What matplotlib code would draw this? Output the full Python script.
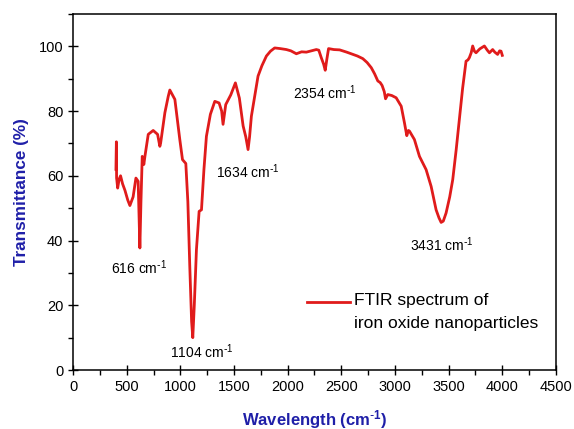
import numpy as np
import matplotlib
matplotlib.use("Agg")
import matplotlib.pyplot as plt
from matplotlib.ticker import MultipleLocator
from matplotlib.legend_handler import HandlerLine2D
from matplotlib.lines import Line2D

plt.rcParams['font.family'] = ['Liberation Sans', 'DejaVu Sans']
plt.rcParams['axes.unicode_minus'] = False

# FTIR spectrum (wavenumber in cm-1, transmittance in %)
wavenumber = [400, 404, 406, 409, 416, 430, 443, 462, 484, 510, 530, 560, 586, 607, 615, 623,
              633, 645, 660, 670, 701, 747, 788, 809, 816, 856, 887, 902, 949, 995, 1020,
              1051, 1070, 1088, 1105, 1116, 1130, 1150, 1175, 1197, 1220, 1243, 1280, 1321,
              1361, 1385, 1398, 1423, 1470, 1513, 1550, 1585, 1610, 1631, 1645, 1662, 1690,
              1724, 1760, 1802, 1840, 1879, 1930, 1988, 2030, 2081, 2130, 2174, 2220, 2267,
              2290, 2313, 2335, 2350, 2365, 2381, 2430, 2484, 2550, 2607, 2650, 2700, 2740,
              2779, 2810, 2840, 2862, 2880, 2900, 2912, 2933, 2970, 3011, 3058, 3088, 3110,
              3125, 3135, 3181, 3228, 3290, 3337, 3383, 3410, 3430, 3450, 3476, 3510, 3538,
              3570, 3600, 3630, 3662, 3680, 3693, 3710, 3724, 3740, 3755, 3790, 3833, 3860,
              3880, 3910, 3930, 3956, 3975, 3988, 4000]
transmittance = [62.0, 70.5, 59.3, 58.5, 56.2, 59.0, 60.0, 57.5, 55.5, 52.5, 50.8, 53.5, 59.3,
                 58.3, 48.0, 37.7, 52.0, 66.0, 63.5, 66.0, 72.8, 74.0, 72.8, 69.1, 70.0, 79.5,
                 84.5, 86.5, 83.6, 71.2, 65.0, 63.8, 52.0, 32.0, 15.0, 10.0, 20.0, 37.2, 49.0,
                 49.5, 62.0, 72.2, 79.0, 83.0, 82.5, 80.0, 75.9, 82.0, 85.0, 88.7, 84.0, 75.4,
                 72.0, 68.1, 72.0, 78.4, 84.0, 90.8, 94.0, 97.0, 98.5, 99.5, 99.3, 99.0, 98.6,
                 97.7, 98.3, 98.2, 98.6, 99.0, 98.8, 96.5, 94.5, 92.6, 96.0, 99.3, 99.0, 98.9,
                 98.2, 97.5, 97.0, 96.2, 95.0, 93.4, 91.5, 89.3, 88.8, 87.9, 86.0, 83.8, 85.1,
                 84.8, 84.1, 81.5, 76.4, 72.4, 74.0, 73.8, 71.2, 66.0, 61.9, 56.7, 49.5, 47.0,
                 45.6, 46.0, 48.5, 53.5, 58.8, 68.0, 77.4, 87.0, 95.4, 95.8, 96.5, 98.0, 100.1,
                 98.5, 98.0, 99.2, 100.1, 98.8, 98.0, 99.0, 98.2, 97.5, 98.6, 98.5, 97.2]

peak_labels = ['616', '1104', '1634', '2354', '3431']
peak_text_x = [618, 1205, 1630, 2344, 3437]
peak_text_y = [31.6, 5.7, 61.4, 85.7, 38.7]

label_color = '#1f1fa8'
sup = r'$\mathregular{^{\text{-}1}}$'


# legend line sits level with the first text line, like in the original
class TopLineHandler(HandlerLine2D):
    def create_artists(self, legend, orig_handle, xdescent, ydescent, width, height,
                       fontsize, trans):
        arts = super().create_artists(legend, orig_handle, xdescent, ydescent, width,
                                      height, fontsize, trans)
        for a in arts:
            if isinstance(a, Line2D):
                a.set_ydata(np.asarray(a.get_ydata()) + 0.62 * fontsize)
        return arts


fig = plt.figure(figsize=(5.74, 4.29), dpi=100)
ax = fig.add_axes([0.1272, 0.1375, 0.8414, 0.83])

line, = ax.plot(wavenumber, transmittance, color='#e01b1b', lw=2,
                label='FTIR spectrum of\niron oxide nanoparticles')

for lab, tx, ty in zip(peak_labels, peak_text_x, peak_text_y):
    ax.text(tx, ty, lab + ' cm' + sup, ha='center', va='center', fontsize=10)

ax.set_xlim(0, 4500)
ax.set_ylim(0, 110)
ax.xaxis.set_major_locator(MultipleLocator(500))
ax.xaxis.set_minor_locator(MultipleLocator(250))
ax.yaxis.set_minor_locator(MultipleLocator(10))
ax.set_yticks([0, 20, 40, 60, 80, 100])
ax.tick_params(which='major', direction='inout', length=7, width=1, labelsize=10.5,
               top=False, right=False)
ax.tick_params(which='minor', direction='out', length=3.5, width=1, top=False, right=False)
for s in ax.spines.values():
    s.set_linewidth(1.1)

ax.set_xlabel('Wavelength (cm' + sup + ')', fontsize=12, fontweight='bold',
              color=label_color, labelpad=10)
ax.set_ylabel('Transmittance (%)', fontsize=12.3, fontweight='bold', color=label_color,
              labelpad=7)

leg = ax.legend(loc='lower right', bbox_to_anchor=(0.995, 0.065), frameon=False, fontsize=12.5,
                handlelength=2.5, handletextpad=0.2, labelspacing=0.2,
                handler_map={line: TopLineHandler()})
for t in leg.get_texts():
    t.set_linespacing(1.65)

fig.savefig('out.png', dpi=100)
